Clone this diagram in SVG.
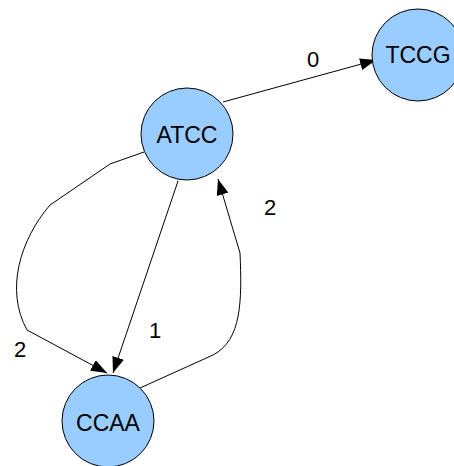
<svg xmlns="http://www.w3.org/2000/svg" width="454" height="466" viewBox="0 0 454 466">
  <style>
    .node circle { fill: #99ccff; stroke: #000; stroke-width: 1; }
    .node text { font-family: "Liberation Sans", Arial, sans-serif; font-size: 23px; fill: #000; text-anchor: middle; }
    .edge { fill: none; stroke: #000; stroke-width: 1; marker-end: url(#arrow); }
    .elabel { font-family: "Liberation Sans", Arial, sans-serif; font-size: 22px; fill: #000; text-anchor: middle; }
  </style>
  <defs>
    <marker id="arrow" viewBox="0 0 16 12" refX="16" refY="6" markerWidth="16" markerHeight="12" markerUnits="userSpaceOnUse" orient="auto">
      <path d="M0,0 L16,6 L0,12 Z" fill="#000"/>
    </marker>
  </defs>
  <rect width="454" height="466" fill="#fff"/>
  <g id="connectors">
    <path class="edge" d="M223,102 L376,60"/>
    <path class="edge" d="M178,181 L113,373"/>
    <path class="edge" d="M140,388 L213,355 C242,340 242,300 240,253 L218,179"/>
    <path class="edge" d="M144,152 L110,164 L50,205 C20,240 5,290 27,330 L107,373"/>
    <text class="elabel" x="313" y="67">0</text>
    <text class="elabel" x="155" y="338">1</text>
    <text class="elabel" x="270" y="215">2</text>
    <text class="elabel" x="20" y="357">2</text>
  </g>
  <g id="node-atcc" class="node">
    <circle cx="187" cy="134" r="46"/>
    <text x="187" y="143">ATCC</text>
  </g>
  <g id="node-tccg" class="node">
    <circle cx="418" cy="55" r="46"/>
    <text x="418" y="63">TCCG</text>
  </g>
  <g id="node-ccaa" class="node">
    <circle cx="108" cy="421" r="46"/>
    <text x="108" y="431">CCAA</text>
  </g>
</svg>
